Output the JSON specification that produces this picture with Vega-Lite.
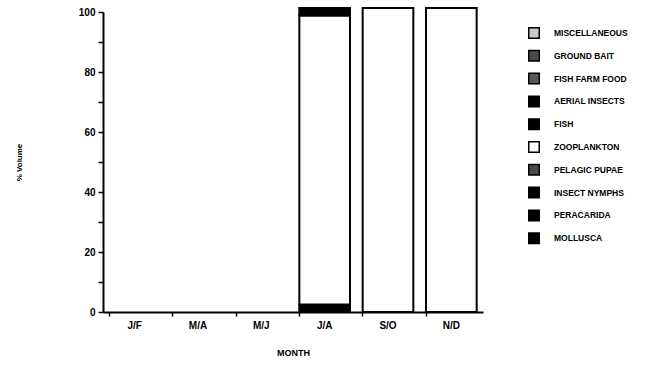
{
  "$schema": "https://vega.github.io/schema/vega-lite/v6.json",
  "width": 380,
  "height": 300,
  "autosize": {"type": "none"},
  "padding": {"left": 103, "top": 12, "right": 177, "bottom": 53},
  "background": "white",
  "config": {
    "view": {"stroke": null},
    "font": "Liberation Sans",
    "axis": {"grid": false, "domainColor": "black", "domainWidth": 2, "tickColor": "black", "tickWidth": 1.5, "labelFont": "Liberation Sans", "labelFontWeight": "bold", "labelColor": "black", "titleFont": "Liberation Sans", "titleFontWeight": "bold", "titleColor": "black"}
  },
  "data": {
    "values": [
      {"month": "J/A", "category": "MOLLUSCA", "rank": 1, "volume": 2.5},
      {"month": "J/A", "category": "ZOOPLANKTON", "rank": 6, "volume": 96.3},
      {"month": "J/A", "category": "FISH", "rank": 7, "volume": 2.5},
      {"month": "S/O", "category": "ZOOPLANKTON", "rank": 6, "volume": 101.3},
      {"month": "N/D", "category": "ZOOPLANKTON", "rank": 6, "volume": 101.3}
    ]
  },
  "mark": {"type": "bar", "stroke": "black", "strokeWidth": 2},
  "encoding": {
    "x": {
      "field": "month", "type": "nominal",
      "scale": {"domain": ["J/F", "M/A", "M/J", "J/A", "S/O", "N/D"], "paddingInner": 0.2, "paddingOuter": 0.1},
      "axis": {"title": "MONTH", "labelAngle": 0, "labelFontSize": 10, "titleFontSize": 9, "titlePadding": 18, "tickSize": 4, "bandPosition": 0, "labelPadding": 4}
    },
    "y": {
      "field": "volume", "type": "quantitative", "stack": "zero",
      "scale": {"domain": [0, 100], "nice": false},
      "axis": {"title": "% Volume", "values": [0, 10, 20, 30, 40, 50, 60, 70, 80, 90, 100], "labelExpr": "datum.value % 20 === 0 ? datum.label : ''", "labelFontSize": 10, "titleFontSize": 8, "titlePadding": 55, "tickSize": 5, "labelPadding": 3}
    },
    "order": {"field": "rank", "type": "quantitative"},
    "color": {
      "field": "category", "type": "nominal",
      "scale": {
        "domain": ["MISCELLANEOUS", "GROUND BAIT", "FISH FARM FOOD", "AERIAL INSECTS", "FISH", "ZOOPLANKTON", "PELAGIC PUPAE", "INSECT NYMPHS", "PERACARIDA", "MOLLUSCA"],
        "range": ["#c8c8c8", "#4a4a4a", "#5a5a5a", "#000000", "#000000", "#ffffff", "#4a4a4a", "#000000", "#000000", "#000000"]
      },
      "legend": {
        "title": null, "orient": "none", "legendX": 425, "legendY": 15,
        "symbolType": "square", "symbolSize": 110, "symbolStrokeColor": "black", "symbolStrokeWidth": 1.5, "symbolOpacity": 1,
        "labelFont": "Liberation Sans", "labelFontWeight": "bold", "labelFontSize": 8.5, "labelColor": "black", "labelOffset": 14,
        "rowPadding": 4.8, "labelLimit": 200
      }
    }
  }
}
